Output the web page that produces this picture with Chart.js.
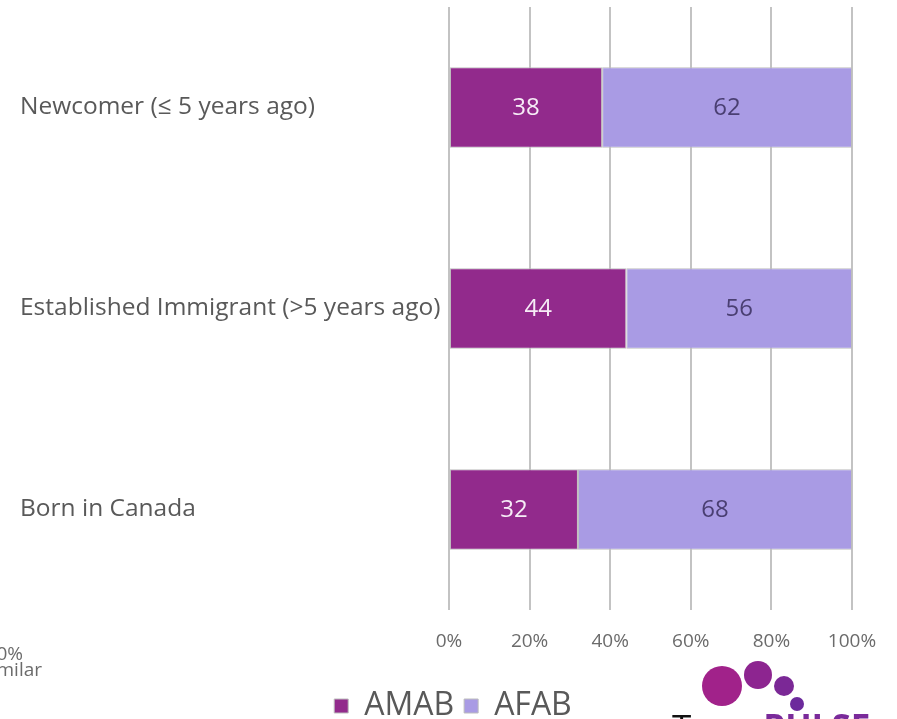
<!DOCTYPE html>
<html>
<head>
<meta charset="utf-8">
<script src="https://cdn.jsdelivr.net/npm/chart.js@4/dist/chart.umd.min.js"></script>
<style>
  html, body { margin: 0; padding: 0; background: #fff; overflow: hidden; }
  #wrap { position: relative; width: 897px; height: 719px; }
  .frag { position: absolute; font-family: "Open Sans", sans-serif; color: #6b6b6b; font-size: 19px; line-height: 17px; text-align: right; white-space: nowrap; }
  .dot { position: absolute; border-radius: 50%; }
  #logoText { position: absolute; left: 672px; top: 709px; font-family: "Open Sans", sans-serif; font-size: 35px; line-height: 35px; white-space: nowrap; }
</style>
</head>
<body>
<div id="wrap">
  <canvas id="originChart" width="897" height="719"></canvas>
  <div class="frag" style="left:-120px; width:143px; top:645px;">20%</div>
  <div class="frag" style="left:-120px; width:162px; top:661px;">similar</div>
  <div class="dot" style="left:702px; top:666px; width:40px; height:40px; background:#a1228a;"></div>
  <div class="dot" style="left:744px; top:661px; width:28px; height:28px; background:#8d2590;"></div>
  <div class="dot" style="left:774px; top:676px; width:20px; height:20px; background:#7b2896;"></div>
  <div class="dot" style="left:790px; top:697px; width:14px; height:14px; background:#6c2a9c;"></div>
  <div id="logoText"><span style="color:#111;">Trans</span><span style="color:#7a2a9a; font-weight:bold;">PULSE</span></div>
</div>
<script>
var categories = ["Newcomer (\u2264 5 years ago)", "Established Immigrant (>5 years ago)", "Born in Canada"];
var amabValues = [38, 44, 32];
var afabValues = [62, 56, 68];
var tickValues = [0, 20, 40, 60, 80, 100];

var labelFont = "'Open Sans', sans-serif";

// draws the numbers in the middle of each bar segment
var barLabels = {
  id: 'barLabels',
  afterDatasetsDraw: function(chart) {
    var ctx = chart.ctx;
    ctx.save();
    ctx.font = "24px " + labelFont;
    ctx.textAlign = 'center';
    ctx.textBaseline = 'middle';
    chart.data.datasets.forEach(function(ds, i) {
      var meta = chart.getDatasetMeta(i);
      meta.data.forEach(function(bar, j) {
        ctx.fillStyle = ds.labelColor;
        ctx.fillText(ds.data[j], (bar.x + bar.base) / 2, bar.y + 1);
      });
    });
    ctx.restore();
  }
};

// nudge legend to where it sat on the original slide
var legendShift = {
  id: 'legendShift',
  afterLayout: function(chart) {
    if (chart.legend) {
      chart.legend.left += 17;
      chart.legend.right += 17;
      chart.legend.top += 13;
      chart.legend.bottom += 13;
    }
  }
};

var canvas = document.getElementById('originChart');
var myChart = new Chart(canvas, {
  type: 'bar',
  data: {
    labels: categories,
    datasets: [{
      label: 'AMAB',
      data: amabValues,
      backgroundColor: '#922a8c',
      borderColor: '#bdbdbd',
      borderWidth: 1,
      borderSkipped: false,
      labelColor: '#f6ecf6',
      barPercentage: 0.4,
      categoryPercentage: 1.0
    }, {
      label: 'AFAB',
      data: afabValues,
      backgroundColor: '#a99be4',
      borderColor: '#bdbdbd',
      borderWidth: 1,
      borderSkipped: false,
      labelColor: '#4a3f72',
      barPercentage: 0.4,
      categoryPercentage: 1.0
    }]
  },
  options: {
    indexAxis: 'y',
    responsive: false,
    animation: false,
    layout: { padding: { left: 20, right: 45, top: 7, bottom: 0 } },
    scales: {
      x: {
        stacked: true,
        min: 0,
        max: 100,
        afterBuildTicks: function(scale) {
          scale.ticks = tickValues.map(function(v) { return { value: v }; });
        },
        afterFit: function(scale) { scale.height = 57; },
        grid: { color: '#c3c3c3', lineWidth: 2, drawTicks: false },
        border: { display: false },
        ticks: {
          padding: 20,
          color: '#6b6b6b',
          font: { family: labelFont, size: 19 },
          callback: function(v) { return v + '%'; }
        }
      },
      y: {
        stacked: true,
        afterFit: function(scale) {
          scale.width = 429;
          scale.paddingTop = 0;
          scale.paddingBottom = 0;
        },
        grid: { display: false },
        border: { display: false },
        ticks: {
          crossAlign: 'far',
          color: '#595959',
          font: { family: labelFont, size: 24.5 }
        }
      }
    },
    plugins: {
      legend: {
        position: 'bottom',
        labels: {
          boxWidth: 14,
          boxHeight: 14,
          padding: 10,
          color: '#595959',
          font: { family: labelFont, size: 32 }
        }
      },
      tooltip: { enabled: false }
    }
  },
  plugins: [barLabels, legendShift]
});
</script>
</body>
</html>
